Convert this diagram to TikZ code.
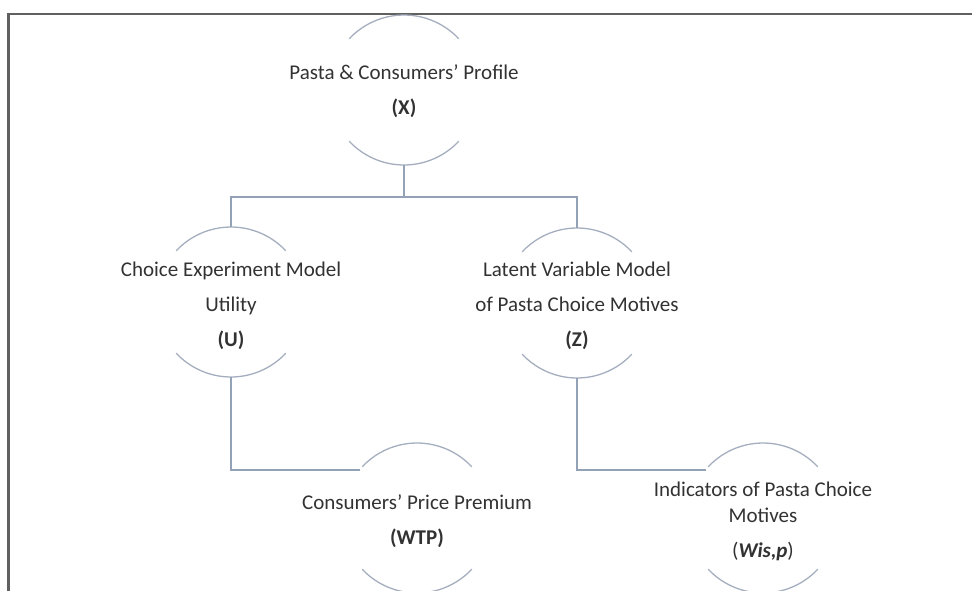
\documentclass[tikz,border=0pt]{standalone}
\usepackage{fontspec}
\setmainfont{Carlito}
\usepackage{xcolor}

\definecolor{ringgray}{RGB}{165,174,190}
\definecolor{linkgray}{RGB}{148,162,184}
\definecolor{textgray}{RGB}{50,50,50}
\definecolor{framegray}{RGB}{96,96,96}

\tikzset{
  ball/.style={circle, draw=none, minimum size=150pt, inner sep=0pt, outer sep=0pt},
  caption/.style={align=center, text=textgray, font=\fontsize{21}{35}\selectfont},
  ring/.style={draw=ringgray, line width=1.3pt},
  link/.style={draw=linkgray, line width=1.5pt},
}

% top and bottom arcs of a hidden circle
\newcommand{\ringarcs}[1]{%
  \draw[ring] (#1.43) arc[start angle=-43, end angle=-137, radius=75];
  \draw[ring] (#1.-43) arc[start angle=43, end angle=137, radius=75];}

\begin{document}
\begin{tikzpicture}[x=1pt,y=1pt,yscale=-1,xscale=1]
        \useasboundingbox (0,0) rectangle (972,590);
        
        %Frame
        \draw [framegray, line width=2.6pt] (8.5,600) -- (8.5,14) -- (980,14) ;
        
        %Circles
        \node [ball] (X) at (404,90) {};
        \node [ball] (U) at (231,302) {};
        \node [ball] (Z) at (577,303) {};
        \node [ball] (wtp) at (417,518) {};
        \node [ball] (wis) at (763,518) {};
        \ringarcs{X}
        \ringarcs{U}
        \ringarcs{Z}
        \ringarcs{wtp}
        \ringarcs{wis}
        
        %Connectors
        \draw [link] (X.south) -- ++(0,32) coordinate (bus) ;
        \draw [link] (U.north) |- (bus) -| (Z.north) ;
        \draw [link] (U.south) |- (wtp.140) ;
        \draw [link] (Z.south) |- (wis.140) ;
        
        %Texts
        \node [caption] (Xtext) at ([yshift=1]X) {Pasta \& Consumers’ Profile\\\textbf{(X)}};
        \node [caption] (Utext) at ([yshift=4]U) {Choice Experiment Model\\Utility\\\textbf{(U)}};
        \node [caption] (Ztext) at ([yshift=3]Z) {Latent Variable Model\\of Pasta Choice Motives\\\textbf{(Z)}};
        \node [caption] (wtptext) at ([yshift=3]wtp) {Consumers’ Price Premium\\\textbf{(WTP)}};
        \node [caption] (wistext) at ([yshift=3]wis) {Indicators of Pasta Choice\\[-9pt]Motives\\(\textbf{\textit{Wis,p}})};
\end{tikzpicture}
\end{document}
